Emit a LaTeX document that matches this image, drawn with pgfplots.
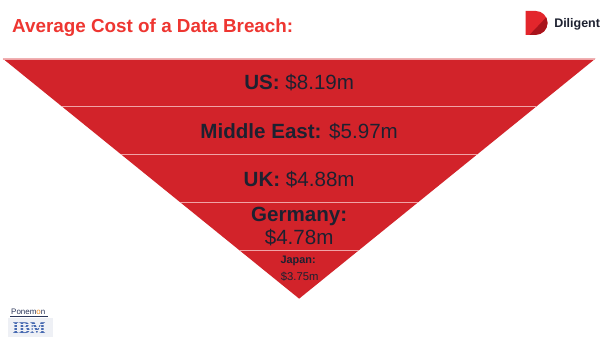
\documentclass[border=0pt]{standalone}
\usepackage{pgfplots}
\pgfplotsset{compat=1.18}
\usepackage{fontspec}
\setmainfont{Liberation Sans}
\newfontfamily\serifbold{Liberation Serif}

\definecolor{funnelred}{HTML}{D2232A}
\definecolor{titlered}{HTML}{EE3631}
\definecolor{seppink}{HTML}{F0A3A6}
\definecolor{textdark}{HTML}{1D2130}
\definecolor{logored}{HTML}{E3262C}
\definecolor{logodark}{HTML}{A8141C}
\definecolor{ibmblue}{HTML}{4568B0}
\definecolor{ibmback}{HTML}{EEF0F5}
\definecolor{ponnavy}{HTML}{2A3559}
\definecolor{ponorange}{HTML}{F08A1C}

% funnel outline (pixel-style coordinates, y grows downward)
\pgfplotstableread{
x y
3 59
598 59
300.5 300
3 59
}\funnel

\begin{document}
\begin{tikzpicture}
\begin{axis}[
  scale only axis,
  width=450pt, height=255.75pt,
  xmin=0, xmax=600, ymin=0, ymax=341,
  y dir=reverse,
  hide axis,
  clip=false,
]
\fill[white] (axis cs:0,0) rectangle (axis cs:600,341);

% title
\node[anchor=base west, font=\fontsize{14.2}{16}\selectfont\bfseries, text=titlered, inner sep=0pt]
  at (axis cs:12,33) {Average Cost of a Data Breach:};

% funnel
\addplot[fill=funnelred, draw=none] table[x=x, y=y] {\funnel} -- cycle;
\addplot[seppink, line width=0.7pt] coordinates {(3,59.3) (598,59.3)};
% band boundaries
\addplot[seppink, line width=1.1pt] coordinates {(62.4,107.2) (538.6,107.2)};
\addplot[seppink, line width=1.1pt] coordinates {(121.8,155.4) (479.2,155.4)};
\addplot[seppink, line width=1.1pt] coordinates {(181.2,203.6) (419.8,203.6)};
\addplot[seppink, line width=1.1pt] coordinates {(240.5,251.8) (360.5,251.8)};

% band labels
\tikzset{lbl/.style={anchor=base, inner sep=0pt, text=textdark, font=\fontsize{15.5}{18}\selectfont}}
\node[lbl] at (axis cs:300.5,90) {\textbf{US:} \$8.19m};
\node[lbl] at (axis cs:300.5,139) {\textbf{Middle East:} \$5.97m};
\node[lbl] at (axis cs:300.5,187) {\textbf{UK:} \$4.88m};
\node[lbl] at (axis cs:300.5,223) {\textbf{Germany:}};
\node[lbl] at (axis cs:300.5,246) {\$4.78m};
\node[lbl, font=\fontsize{8.2}{10}\selectfont] at (axis cs:299.5,265) {\textbf{Japan:}};
\node[lbl, font=\fontsize{8.5}{10}\selectfont] at (axis cs:301,281.5) {\$3.75m};

% Diligent mark
\begin{scope}
  \clip (axis cs:528,11) -- (axis cs:538,11) arc[start angle=90, end angle=-90, radius=9pt] -- (axis cs:528,35) -- cycle;
  \fill[logored] (axis cs:520,5) rectangle (axis cs:556,40);
  \fill[logodark] (axis cs:531,36) -- (axis cs:552,14) -- (axis cs:552,36) -- cycle;
\end{scope}
\node[anchor=base west, inner sep=0pt, text=textdark, font=\fontsize{9.4}{11}\selectfont\bfseries]
  at (axis cs:556.5,27.5) {Diligent};

% Ponemon / IBM source mark
\node[anchor=base west, inner sep=0pt, text=ponnavy, font=\fontsize{6}{7}\selectfont]
  at (axis cs:11,315.5) {Ponem\textcolor{ponorange}{o}n};
\fill[ponnavy] (axis cs:10,317.3) rectangle (axis cs:48,318.3);
\fill[ibmback] (axis cs:8,319.5) rectangle (axis cs:53,339);
\node[anchor=base west, inner sep=0pt, text=ibmblue, font=\fontsize{12.4}{14}\serifbold\bfseries]
  at (axis cs:12.5,335.5) {IBM};
\fill[ibmback] (axis cs:10,325.2) rectangle (axis cs:51,326.1);
\fill[ibmback] (axis cs:10,328.2) rectangle (axis cs:51,329.1);
\fill[ibmback] (axis cs:10,331.2) rectangle (axis cs:51,332.1);
\end{axis}
\end{tikzpicture}
\end{document}
